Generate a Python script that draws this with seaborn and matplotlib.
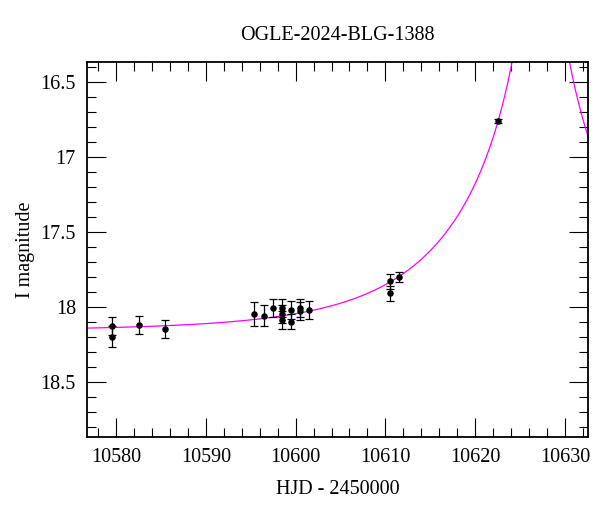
import numpy as np
import pandas as pd
import seaborn as sns
import matplotlib
matplotlib.use("Agg")
import matplotlib.pyplot as plt
from matplotlib.ticker import MultipleLocator, FormatStrFormatter

# dati osservati (HJD - 2450000, magnitudine I, errore)
hjd = [10579.6, 10579.6, 10582.6, 10585.5, 10595.4, 10596.5, 10597.5,
       10598.5, 10598.5, 10598.5, 10599.5, 10599.5, 10600.5, 10600.5,
       10601.5, 10610.5, 10610.5, 10611.5, 10622.5]
mag = [18.13, 18.20, 18.12, 18.15, 18.05, 18.06, 18.01,
       18.01, 18.05, 18.09, 18.02, 18.10, 18.01, 18.03,
       18.02, 17.83, 17.91, 17.80, 16.76]
err = [0.06, 0.07, 0.06, 0.06, 0.08, 0.07, 0.06,
       0.06, 0.06, 0.06, 0.06, 0.05, 0.06, 0.06,
       0.06, 0.05, 0.05, 0.035, 0.015]

# parametri del modello Paczynski
t0 = 10627.3
tE = 17.0
u0 = 0.05
I0 = 18.16
fs = 1.0

title = "OGLE-2024-BLG-1388"
xlabel = "HJD - 2450000"
ylabel = "I magnitude"

data = pd.DataFrame({"HJD": hjd, "MAG": mag, "ERR": err})

# curva del modello
t = np.linspace(10576.0, 10633.5, 2000)
u = np.sqrt(u0 ** 2 + ((t - t0) / tE) ** 2)
A = (u ** 2 + 2) / (u * np.sqrt(u ** 2 + 4))
model = pd.DataFrame({"HJD": t, "MAG": I0 - 2.5 * np.log10(fs * A + 1 - fs)})

sns.set_style("ticks")
plt.rcParams["font.family"] = ["Liberation Serif", "DejaVu Serif"]
plt.rcParams["font.size"] = 14.5
plt.rcParams["text.color"] = "black"
plt.rcParams["axes.labelcolor"] = "black"
plt.rcParams["xtick.color"] = "black"
plt.rcParams["ytick.color"] = "black"

fig = plt.figure(figsize=(6, 5.12), dpi=100)
ax = fig.add_axes([0.145, 0.1465, 0.835, 0.7325])

sns.lineplot(data=model, x="HJD", y="MAG", color="#ff00ff", linewidth=0.9, ax=ax)
ax.errorbar(data.HJD, data.MAG, yerr=data.ERR, fmt="none", ecolor="black",
            elinewidth=0.9, capsize=2.6, capthick=0.9)
sns.scatterplot(data=data, x="HJD", y="MAG", color="black", s=22,
                edgecolor="black", linewidth=0, ax=ax, zorder=3)

ax.set_xlim(10576.77, 10632.56)
ax.set_ylim(18.867, 16.367)

ax.xaxis.set_major_locator(MultipleLocator(10))
ax.xaxis.set_minor_locator(MultipleLocator(2))
ax.yaxis.set_major_locator(MultipleLocator(0.5))
ax.yaxis.set_minor_locator(MultipleLocator(0.1))
ax.yaxis.set_major_formatter(FormatStrFormatter("%g"))
ax.xaxis.set_major_formatter(FormatStrFormatter("%d"))

ax.tick_params(which="both", direction="in", top=True, right=True,
               color="black", width=0.8, labelsize=14.5)
ax.tick_params(which="major", length=13.5, pad=8)
ax.tick_params(which="minor", length=6.5)
for s in ax.spines.values():
    s.set_linewidth(1.3)
    s.set_color("black")

ax.set_xlabel(xlabel, fontsize=14.5, labelpad=9)
ax.set_ylabel(ylabel, fontsize=14.5, labelpad=4)
ax.set_title(title, fontsize=14.5, pad=16)

fig.savefig("out.png", dpi=100)
